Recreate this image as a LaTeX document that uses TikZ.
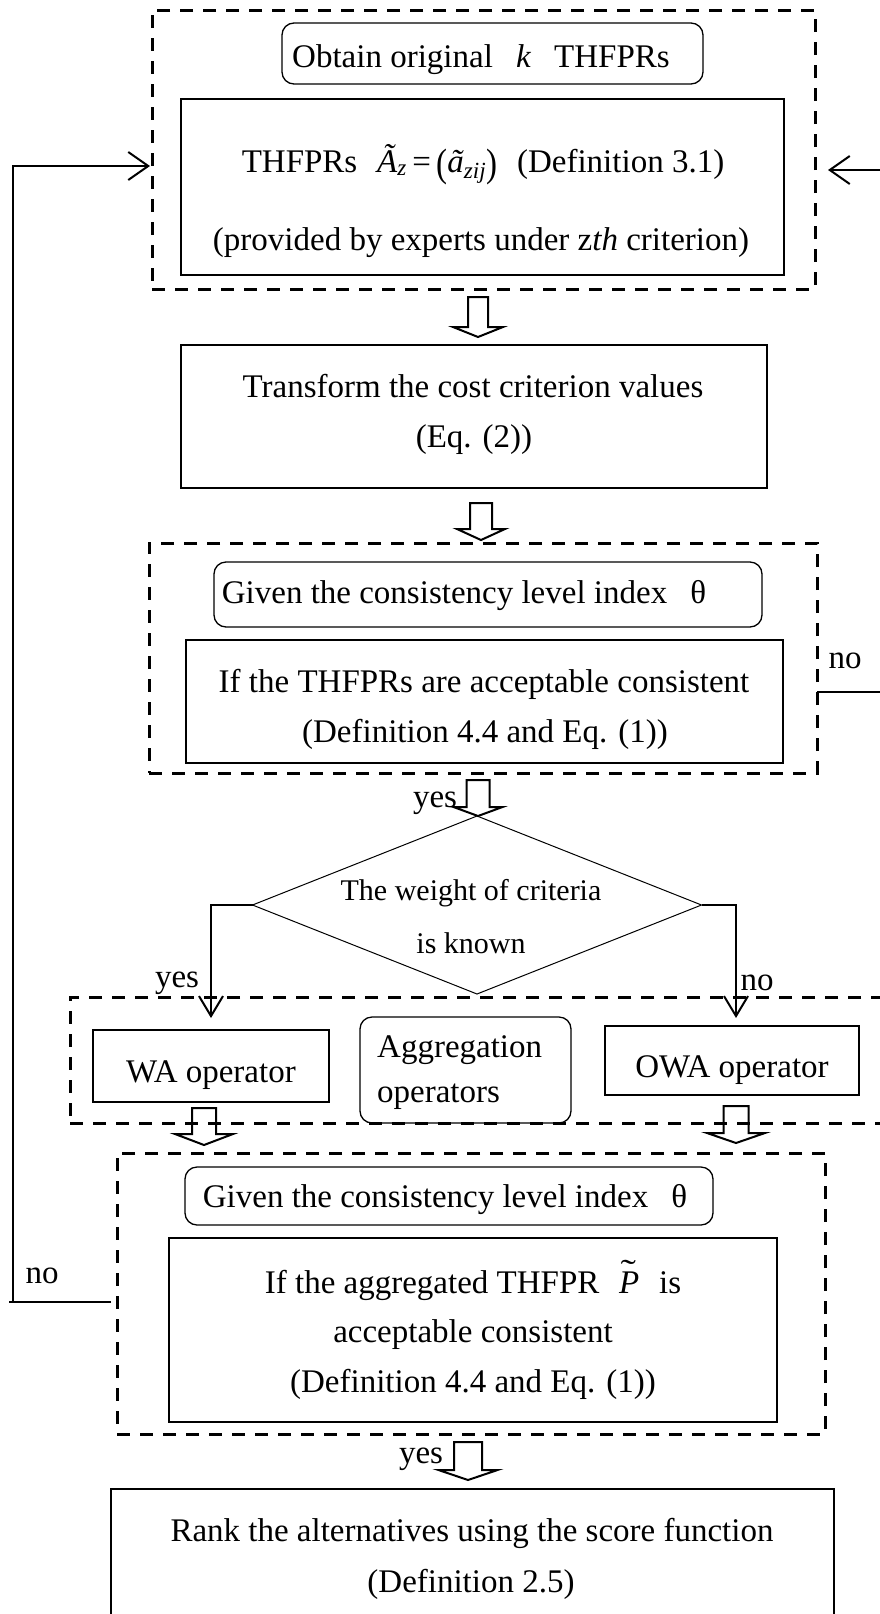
\documentclass[tikz,border=0pt]{standalone}
\usepackage{fontspec}
\setmainfont{Liberation Serif}
\usetikzlibrary{shapes.geometric,arrows.meta}
\newcommand\hollowarr[6]{% cx top base tip shaftwidth headwidth
  \draw[harr] ({#1-#5/2},#2) -- ({#1-#5/2},#3) -- ({#1-#6/2},#3) -- (#1,#4) -- ({#1+#6/2},#3) -- ({#1+#5/2},#3) -- ({#1+#5/2},#2) -- cycle;}
\newcommand\bigparen[1]{\raisebox{-4pt}{\scalebox{1}[1.2]{#1}}}
\newcommand\tildeP{\textit{P}\llap{\raisebox{0.33em}{\scalebox{1.4}[1]{\char"02DC}}\kern0.1em}}
\begin{document}
\begin{tikzpicture}[x=1pt,y=-1pt,
  txt/.style={font=\fontsize{33}{40}\selectfont, inner sep=0, anchor=base},
  dtxt/.style={font=\fontsize{30}{36}\selectfont, inner sep=0, anchor=base},
  dbox/.style={draw, line width=3pt, dash pattern=on 13pt off 10pt, inner sep=0, outer sep=0},
  sbox/.style={draw, line width=2.2pt, inner sep=0, outer sep=0},
  rbox/.style={draw, line width=1.3pt, rounded corners=12pt, inner sep=0, outer sep=0},
  dia/.style={draw, diamond, line width=1pt, inner sep=0, outer sep=0},
  conn/.style={line width=2pt, -{Straight Barb[length=20pt,width=28pt]}},
  bconn/.style={line width=2pt, -{Straight Barb[length=20pt,width=24pt]}},
  plain/.style={line width=2pt},
  harr/.style={line width=2pt, line join=miter}]
\useasboundingbox (0,0) rectangle (880,1614);
\clip (0,0) rectangle (880,1614);

% --- boxes ---
\node[dbox, minimum width=663pt, minimum height=279pt] (dash1) at (483.5,149.5) {};
\node[rbox, minimum width=421pt, minimum height=61pt] (r1) at (492.5,53.5) {};
\node[sbox, minimum width=603pt, minimum height=176pt] (b1) at (482.5,187) {};
\node[sbox, minimum width=586pt, minimum height=143pt] (b2) at (474,416.5) {};
\node[dbox, minimum width=668pt, minimum height=230pt] (dash2) at (483,658) {};
\node[rbox, minimum width=548pt, minimum height=65pt] (r2) at (488,594.5) {};
\node[sbox, minimum width=597pt, minimum height=123pt] (b3) at (484.5,701.5) {};
\node[dia, minimum width=449pt, minimum height=178pt] (d) at (477,905) {};
\node[dbox, minimum width=850pt, minimum height=126pt] (dash3) at (495,1060) {};
\node[sbox, minimum width=236pt, minimum height=72pt] (wa) at (211,1066) {};
\node[rbox, minimum width=211pt, minimum height=106pt] (agg) at (465.5,1070) {};
\node[sbox, minimum width=254pt, minimum height=69pt] (owa) at (732,1060.5) {};
\node[dbox, minimum width=708pt, minimum height=281pt] (dash4) at (471,1293.5) {};
\node[rbox, minimum width=528pt, minimum height=58pt] (r4) at (449,1196) {};
\node[sbox, minimum width=608pt, minimum height=184pt] (b4) at (473,1330) {};
\node[sbox, minimum width=723pt, minimum height=151pt] (b5) at (472.5,1564.5) {};

% --- texts ---
\node[txt] (t1) at (481,67) {Obtain original\hspace{0.7em}\textit{k}\hspace{0.7em}THFPRs};
\node[txt] (t2a) at (483,172) {THFPRs\hspace{0.6em}\textit{Ã}\textsubscript{\textit{z}}\,=\,\bigparen{(}\textit{ã}\textsubscript{\textit{zij}}\bigparen{)}\hspace{0.6em}(Definition 3.1)};
\node[txt] (t2b) at (481,250) {(provided by experts under z\textit{th} criterion)};
\node[txt] (t3a) at (473,397) {Transform the cost criterion values};
\node[txt] (t3b) at (474,447) {(Eq. (2))};
\node[txt] (t4) at (464,603) {Given the consistency level index\hspace{0.7em}θ};
\node[txt] (t5a) at (484,692) {If the THFPRs are acceptable consistent};
\node[txt] (t5b) at (485,742) {(Definition 4.4 and Eq. (1))};
\node[txt] (no1) at (845,668) {no};
\node[txt] (yes1) at (435,807) {yes};
\node[dtxt] (d1) at (471,900) {The weight of criteria};
\node[dtxt] (d2) at (471,953) {is known};
\node[txt] (yes2) at (177,987) {yes};
\node[txt] (no2) at (757,990) {no};
\node[txt] (watxt) at (211,1082) {WA operator};
\node[txt, anchor=base west] (agg1) at (377,1057) {Aggregation};
\node[txt, anchor=base west] (agg2) at (377,1102) {operators};
\node[txt] (owatxt) at (732,1077) {OWA operator};
\node[txt] (t6) at (445,1207) {Given the consistency level index\hspace{0.7em}θ};
\node[txt] (t7a) at (473,1293) {If the aggregated THFPR\hspace{0.6em}\tildeP\hspace{0.6em}is};
\node[txt] (t7b) at (473,1342) {acceptable consistent};
\node[txt] (t7c) at (473,1392) {(Definition 4.4 and Eq. (1))};
\node[txt] (no3) at (42,1283) {no};
\node[txt] (yes3) at (421,1463) {yes};
\node[txt] (t8a) at (472,1541) {Rank the alternatives using the score function};
\node[txt] (t8b) at (471,1592) {(Definition 2.5)};

% --- hollow block arrows ---
\hollowarr{478}{297}{327}{337}{20}{50}
\hollowarr{481}{503}{529}{540}{22}{48}
\hollowarr{478}{780}{807}{816}{23}{49}
\hollowarr{204}{1108}{1134}{1145}{24}{58}
\hollowarr{736}{1106}{1133}{1143}{25}{58}
\hollowarr{468}{1442}{1470}{1480}{28}{59}

% --- connectors ---
\draw[bconn] (d.west) -| ([yshift=12pt]wa.north);
\draw[bconn] (d.east) -| ([xshift=4pt,yshift=8pt]owa.north);

\coordinate (rout) at ([yshift=-34pt]dash2.east);
\coordinate (rin) at ([xshift=13pt,yshift=-20.5pt]dash1.east);
\draw[conn] (rout) -- ++(80,0) |- (rin);

\coordinate (lout) at ([xshift=-6pt,yshift=-8.5pt]dash4.west);
\coordinate (lin) at ([xshift=-2pt,yshift=-16.5pt]dash1.west);
\draw[plain] (lout) -- ++(-102,0);
\draw[conn] ([xshift=-98pt]lout) |- (lin);
\end{tikzpicture}
\end{document}
